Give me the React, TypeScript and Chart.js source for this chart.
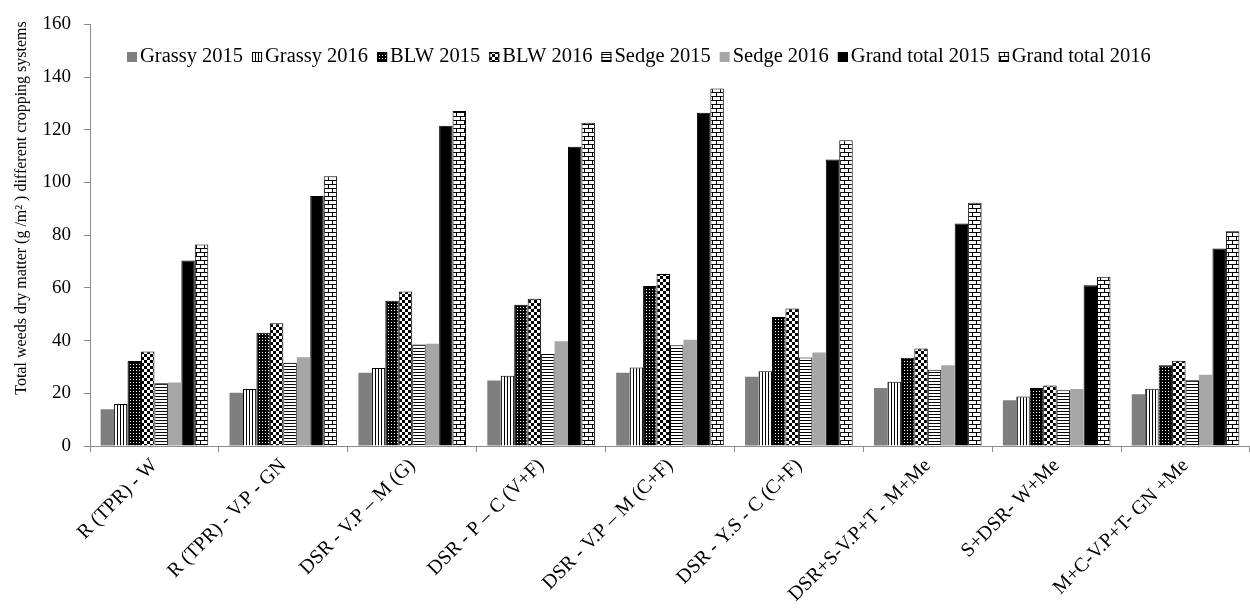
import React, { useEffect, useRef } from "react";
import { Chart, registerables } from "chart.js";

Chart.register(...registerables);

const categories = [
  "R (TPR) - W",
  "R (TPR) - V.P - GN",
  "DSR - V.P – M (G)",
  "DSR - P – C (V+F)",
  "DSR - V.P – M (C+F)",
  "DSR - Y.S - C (C+F)",
  "DSR+S-V.P+T - M+Me",
  "S+DSR- W+Me",
  "M+C-V.P+T- GN +Me",
];

const grassy2015 = [13.9, 20.2, 27.8, 24.9, 27.8, 26.3, 22.0, 17.4, 19.6];
const grassy2016 = [15.9, 21.6, 29.6, 26.7, 29.8, 28.4, 24.4, 18.8, 21.7];
const blw2015 = [32.3, 43.0, 55.1, 53.6, 60.7, 49.0, 33.5, 22.0, 30.6];
const blw2016 = [35.9, 46.6, 58.6, 55.9, 65.3, 52.2, 37.0, 23.0, 32.4];
const sedge2015 = [23.8, 31.6, 38.5, 34.9, 38.2, 33.6, 28.9, 21.2, 25.0];
const sedge2016 = [24.1, 33.7, 38.8, 39.8, 40.3, 35.5, 30.6, 21.6, 27.0];
const total2015 = [70.4, 94.9, 121.5, 113.6, 126.5, 108.7, 84.4, 61.0, 75.0];
const total2016 = [76.5, 102.4, 127.1, 122.7, 135.7, 116.0, 92.3, 64.2, 81.5];

const seriesNames = [
  "Grassy 2015",
  "Grassy 2016",
  "BLW 2015",
  "BLW 2016",
  "Sedge 2015",
  "Sedge 2016",
  "Grand total 2015",
  "Grand total 2016",
];

const yTitle = "Total weeds dry matter (g /m² ) different cropping systems";
const FONT = "'Liberation Serif', 'Times New Roman', serif";

function makePattern(w: number, h: number, draw: (c: CanvasRenderingContext2D) => void) {
  const cv = document.createElement("canvas");
  cv.width = w;
  cv.height = h;
  const c = cv.getContext("2d")!;
  draw(c);
  return c.createPattern(cv, "repeat") as CanvasPattern;
}

export default function App() {
  const ref = useRef<HTMLCanvasElement | null>(null);

  useEffect(() => {
    document.body.style.margin = "0";
    const canvas = ref.current;
    if (!canvas) return;

    const vLines = makePattern(3, 3, (c) => {
      c.fillStyle = "#fff";
      c.fillRect(0, 0, 3, 3);
      c.fillStyle = "#000";
      c.fillRect(0, 0, 1, 3);
    });
    const dots = makePattern(3, 3, (c) => {
      c.fillStyle = "#000";
      c.fillRect(0, 0, 3, 3);
      c.fillStyle = "#fff";
      c.fillRect(1, 1, 1, 1);
    });
    const checker = makePattern(6, 6, (c) => {
      c.fillStyle = "#fff";
      c.fillRect(0, 0, 6, 6);
      c.fillStyle = "#000";
      c.fillRect(0, 0, 3, 3);
      c.fillRect(3, 3, 3, 3);
    });
    const hLines = makePattern(3, 3, (c) => {
      c.fillStyle = "#fff";
      c.fillRect(0, 0, 3, 3);
      c.fillStyle = "#000";
      c.fillRect(0, 0, 3, 1);
    });
    const brick = makePattern(8, 8, (c) => {
      c.fillStyle = "#fff";
      c.fillRect(0, 0, 8, 8);
      c.fillStyle = "#000";
      c.fillRect(0, 0, 8, 1);
      c.fillRect(0, 4, 8, 1);
      c.fillRect(0, 1, 1, 3);
      c.fillRect(4, 5, 1, 3);
    });

    const fills: (string | CanvasPattern)[] = [
      "#7f7f7f",
      vLines,
      dots,
      checker,
      hLines,
      "#a6a6a6",
      "#000000",
      brick,
    ];
    const borders = [0, 1, 1, 1, 1, 0, 1, 1];
    const values = [grassy2015, grassy2016, blw2015, blw2016, sedge2015, sedge2016, total2015, total2016];

    const datasets = values.map((v, i) => ({
      label: seriesNames[i],
      data: v,
      backgroundColor: fills[i],
      borderColor: "#000",
      borderWidth: borders[i],
      barPercentage: 1,
      categoryPercentage: 0.835,
    }));

    const customPlugin = {
      id: "customDecor",
      afterDraw(chart: any) {
        const ctx = chart.ctx as CanvasRenderingContext2D;
        ctx.save();
        // legend
        ctx.font = `20.5px ${FONT}`;
        ctx.textBaseline = "middle";
        ctx.textAlign = "left";
        let x = 127;
        const yc = 57;
        seriesNames.forEach((name, i) => {
          const s = 10;
          ctx.fillStyle = fills[i] as any;
          ctx.fillRect(x, yc - s / 2, s, s);
          if (borders[i]) {
            ctx.strokeStyle = "#000";
            ctx.lineWidth = 1;
            ctx.strokeRect(x + 0.5, yc - s / 2 + 0.5, s - 1, s - 1);
          }
          x += s + 3;
          ctx.fillStyle = "#000";
          ctx.fillText(name, x, yc);
          x += ctx.measureText(name).width + 9;
        });
        // y title
        ctx.font = `16px ${FONT}`;
        ctx.translate(22, 208);
        ctx.rotate(-Math.PI / 2);
        ctx.textAlign = "center";
        ctx.textBaseline = "middle";
        ctx.fillStyle = "#000";
        ctx.fillText(yTitle, 0, 0);
        ctx.restore();
      },
    };

    const chart = new Chart(canvas, {
      type: "bar",
      data: { labels: categories, datasets },
      options: {
        animation: false,
        responsive: false,
        maintainAspectRatio: false,
        layout: { padding: { top: 24, right: 0, left: 0, bottom: 0 } },
        plugins: {
          legend: { display: false },
          tooltip: { enabled: false },
          title: { display: false },
        },
        scales: {
          x: {
            grid: {
              display: true,
              drawOnChartArea: false,
              offset: true,
              tickLength: 6,
              color: "#8c8c8c",
            },
            border: { display: true, color: "#8c8c8c", width: 1 },
            ticks: {
              autoSkip: false,
              minRotation: 45,
              maxRotation: 45,
              color: "#000",
              font: { family: FONT, size: 20 },
              padding: 2,
            },
            afterFit: (scale: any) => {
              scale.height = 170;
            },
          },
          y: {
            min: 0,
            max: 160,
            ticks: {
              stepSize: 20,
              color: "#000",
              font: { family: FONT, size: 19 },
              padding: 13,
            },
            grid: {
              display: true,
              drawOnChartArea: false,
              tickLength: 6,
              color: "#8c8c8c",
            },
            border: { display: true, color: "#8c8c8c", width: 1 },
            afterFit: (scale: any) => {
              scale.width = 90;
            },
          },
        },
      },
      plugins: [customPlugin],
    });

    return () => {
      chart.destroy();
    };
  }, []);

  return (
    <div style={{ width: 1250, height: 616, background: "#fff" }}>
      <canvas ref={ref} width={1250} height={616} style={{ display: "block" }} />
    </div>
  );
}
